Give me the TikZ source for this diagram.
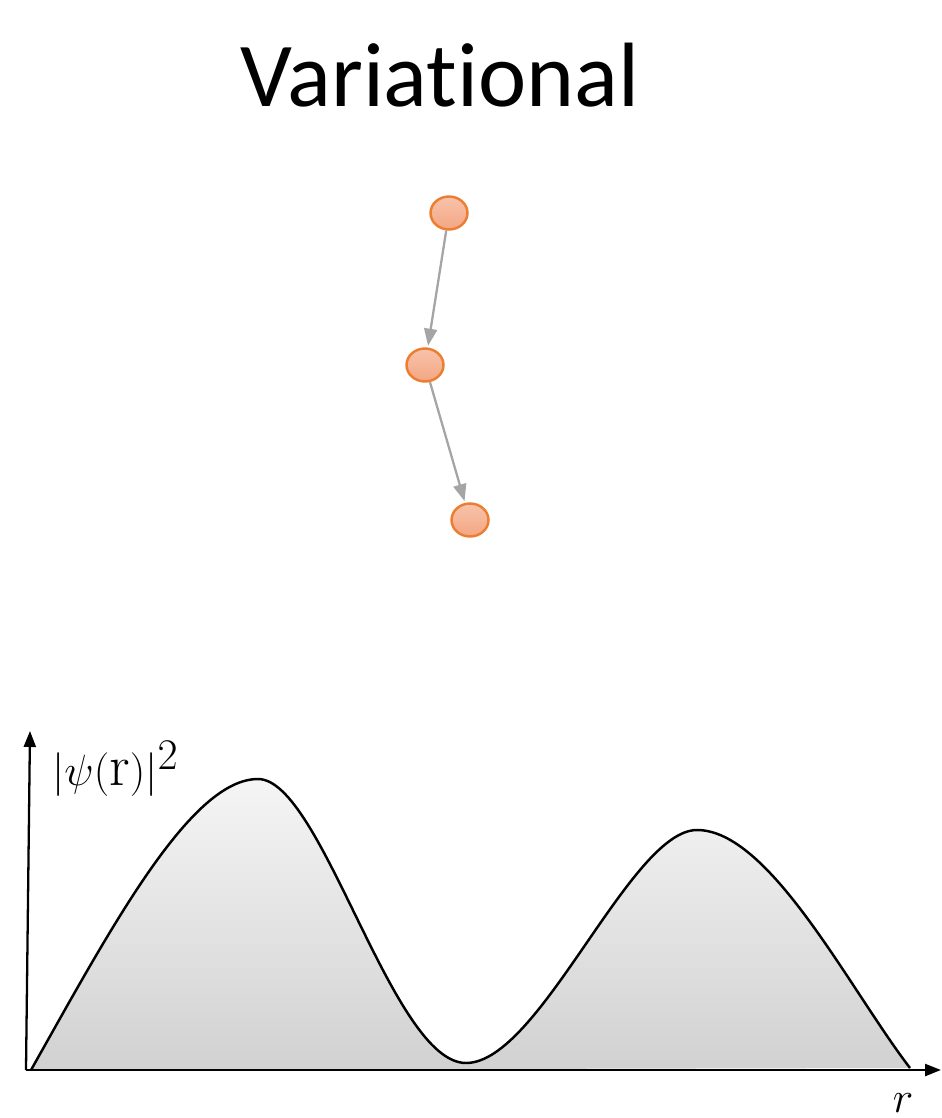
\documentclass[tikz,border=0pt]{standalone}
\usepackage{fontspec}
\newfontfamily\titlefont[Ligatures=NoCommon,RawFeature={-liga;-calt;-dlig}]{Carlito}
\usetikzlibrary{shapes.geometric,arrows.meta}
\definecolor{nodefillA}{HTML}{F8C3AA}
\definecolor{nodefillB}{HTML}{F3A683}
\definecolor{nodedraw}{HTML}{ED7D31}
\definecolor{arrowgray}{HTML}{A5A5A5}
\begin{document}
\begin{tikzpicture}[x=0.02cm,y=-0.02cm,
  ball/.style={ellipse,draw=nodedraw,line width=1.4pt,top color=nodefillA,bottom color=nodefillB,minimum width=0.74cm,minimum height=0.66cm,inner sep=0pt},
  link/.style={draw=arrowgray,line width=1.3pt,-{Triangle[length=0.34cm,width=0.26cm]},shorten >=1pt},
  axis/.style={line width=1.3pt,-{Triangle[length=0.32cm,width=0.24cm]}},
  curve/.style={line width=1.4pt}]
\useasboundingbox (0,0) rectangle (941,1118);
\node[anchor=base,font=\titlefont\fontsize{52}{60}\selectfont] (title) at (440,107) {Variat\kern0pt ional};
\node[ball] (n1) at (449,213) {};
\node[ball] (n2) at (425,365) {};
\node[ball] (n3) at (470,520) {};
\draw[link] (n1) -- (n2);
\draw[link] (n2) -- (n3);
% filled curve
\path[top color=white!96!black,bottom color=white!82!black]
  (31,1070) .. controls (110,930) and (190,779) .. (258,779)
  .. controls (322,779) and (392,1063) .. (466,1063)
  .. controls (540,1063) and (630,830) .. (697,830)
  .. controls (770,830) and (850,990) .. (910,1068) -- cycle;
\draw[curve] (31,1070) .. controls (110,930) and (190,779) .. (258,779)
  .. controls (322,779) and (392,1063) .. (466,1063)
  .. controls (540,1063) and (630,830) .. (697,830)
  .. controls (770,830) and (850,990) .. (910,1068);
\coordinate (origin) at (26,1070);
\coordinate (ytop) at (30,731);
\coordinate (xend) at (941,1070);
\draw[axis] (origin) -- (ytop);
\draw[axis] (origin) -- (xend);
\node[anchor=base west,font=\fontsize{33}{38}\selectfont,inner sep=0pt] (ylab) at (52,785) {$|\psi(\mathrm{r})|^2$};
\node[anchor=base,font=\fontsize{33}{38}\selectfont,inner sep=0pt] (xlab) at (903,1112) {$r$};
\end{tikzpicture}
\end{document}
